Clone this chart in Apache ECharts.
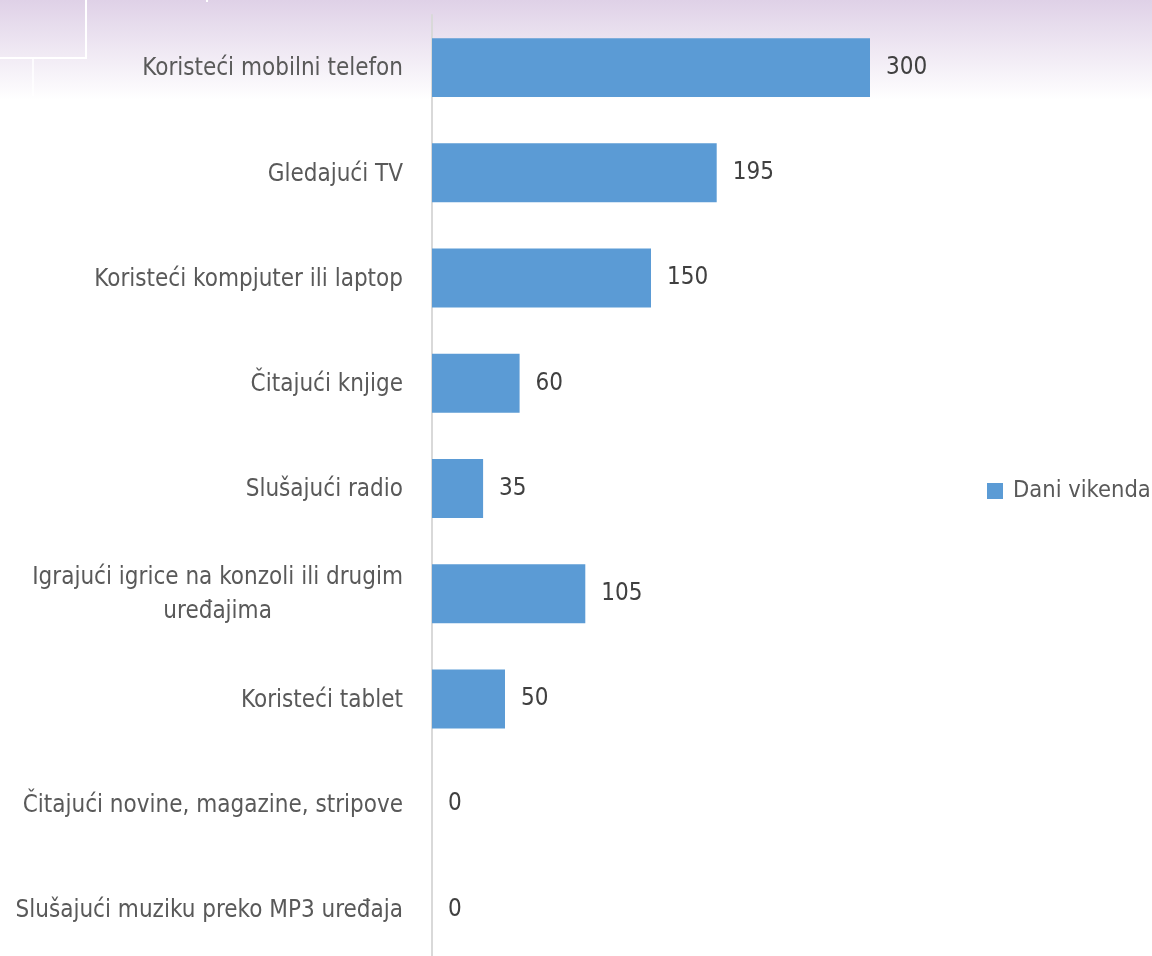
<!DOCTYPE html>
<html><head><meta charset="utf-8">
<script src="https://cdn.jsdelivr.net/npm/echarts@6/dist/echarts.min.js"></script>
<style>html,body{margin:0;padding:0;background:#fff}#c{width:1152px;height:956px}</style>
</head><body><div id="c"></div>
<script>
var categories = [
  'Koristeći mobilni telefon',
  'Gledajući TV',
  'Koristeći kompjuter ili laptop',
  'Čitajući knjige',
  'Slušajući radio',
  'Igrajući igrice na konzoli ili drugim\nuređajima',
  'Koristeći tablet',
  'Čitajući novine, magazine, stripove',
  'Slušajući muziku preko MP3 uređaja'
];
var seriesName = 'Dani vikenda';
var values = [300, 195, 150, 60, 35, 105, 50, 0, 0];

var FONT = "'Liberation Sans Narrow', 'DejaVu Sans Condensed', 'Roboto', sans-serif";
var chart = echarts.init(document.getElementById('c'), null, {renderer: 'canvas'});
chart.setOption({
  backgroundColor: '#ffffff',
  animation: false,
  graphic: [
    {type: 'rect', silent: true, z: -10, shape: {x: 0, y: 0, width: 1152, height: 100},
     style: {fill: new echarts.graphic.LinearGradient(0, 0, 0, 1, [
       {offset: 0, color: '#dfd1e7'}, {offset: 1, color: '#ffffff'}])}},
    {type: 'rect', silent: true, z: -9, shape: {x: -3, y: -3, width: 89, height: 61},
     style: {fill: 'none', stroke: '#ffffff', lineWidth: 2}},
    {type: 'line', silent: true, z: -9, shape: {x1: 33, y1: 58, x2: 33, y2: 96},
     style: {stroke: '#ffffff', lineWidth: 1.5}},
    {type: 'line', silent: true, z: -9, shape: {x1: 207, y1: 0, x2: 207, y2: 2},
     style: {stroke: '#ffffff', lineWidth: 2}}
  ],
  legend: {
    left: 987, top: 479, orient: 'vertical', padding: 0,
    itemWidth: 16, itemHeight: 16, itemGap: 8,
    icon: 'rect',
    textStyle: {fontFamily: FONT, fontSize: 23.5, color: '#595959', padding: [0, 0, 0, 5]},
    data: [seriesName]
  },
  grid: {left: 432, top: 15, width: 511, height: 947, containLabel: false, outerBoundsMode: 'none'},
  xAxis: {
    type: 'value', min: 0, max: 350, show: false
  },
  yAxis: {
    type: 'category', inverse: true, data: categories,
    axisLine: {show: true, lineStyle: {color: '#d9d9d9', width: 2}},
    axisTick: {show: false},
    axisLabel: {
      margin: 29, fontFamily: FONT, fontSize: 24, color: '#595959',
      lineHeight: 34,
      formatter: function (v) { return '{c|' + v + '}'; },
      rich: {c: {align: 'center', fontFamily: FONT, fontSize: 24, color: '#595959', lineHeight: 34, padding: [3, 0, 0, 0]}}
    },
    splitLine: {show: false}
  },
  series: [{
    name: seriesName, type: 'bar', data: values,
    barCategoryGap: '44%',
    itemStyle: {color: '#5b9bd5'},
    label: {show: true, position: 'right', distance: 16,
      fontFamily: FONT, fontSize: 24, color: '#404040', padding: [4, 0, 0, 0]}
  }]
});
</script></body></html>
